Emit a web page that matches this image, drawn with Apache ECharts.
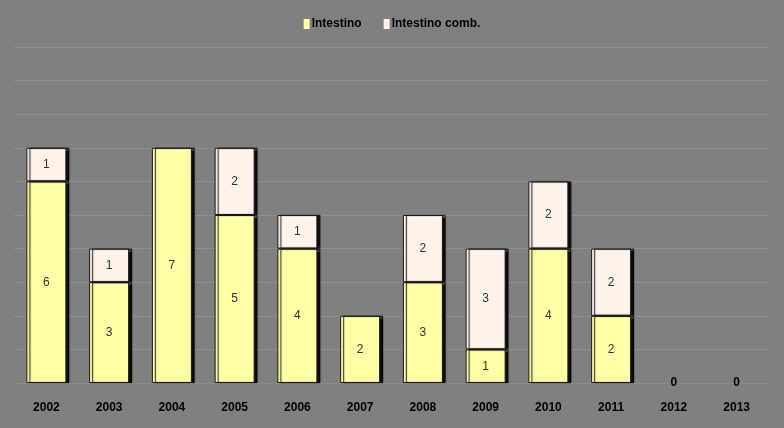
<!DOCTYPE html>
<html>
<head>
<meta charset="utf-8">
<script src="https://cdn.jsdelivr.net/npm/echarts@6/dist/echarts.min.js"></script>
<style>
html,body{margin:0;padding:0;background:#808080;}
#c{width:784px;height:428px;}
</style>
</head>
<body>
<div id="c"></div>
<script>
var years = ['2002','2003','2004','2005','2006','2007','2008','2009','2010','2011','2012','2013'];
var intestino = [6,3,7,5,4,2,3,1,4,2,0,0];
var intestinoComb = [1,1,null,2,1,null,2,3,2,2,null,null];
var seriesNames = ['Intestino','Intestino comb.'];

function toItems(arr){
  return arr.map(function(v){
    if (v === 0) {
      return {value: v, itemStyle: {color: 'rgba(0,0,0,0)', borderWidth: 0, shadowColor: 'rgba(0,0,0,0)', shadowOffsetX: 0}};
    }
    return v;
  });
}

var chart = echarts.init(document.getElementById('c'));
var font = 'Liberation Sans, Arial, sans-serif';
chart.setOption({
  backgroundColor: '#808080',
  animation: false,
  legend: {
    top: 13,
    left: 'center',
    itemWidth: 6,
    itemHeight: 10,
    itemGap: 22,
    icon: 'rect',
    itemStyle: {borderWidth: 0, shadowBlur: 0, shadowColor: 'rgba(0,0,0,0)'},
    textStyle: {fontFamily: font, fontWeight: 'bold', fontSize: 12, color: '#000', padding: [0,0,0,-3]},
    data: seriesNames
  },
  grid: {left: 15, right: 16, top: 47, bottom: 45},
  xAxis: {
    type: 'category',
    data: years,
    axisLine: {show: true, lineStyle: {color: '#8b8b8b'}},
    axisTick: {show: false},
    axisLabel: {fontFamily: font, fontWeight: 'bold', fontSize: 12, color: '#000', margin: 19}
  },
  yAxis: {
    type: 'value',
    min: 0, max: 10, interval: 1,
    axisLabel: {show: false},
    axisLine: {show: false},
    axisTick: {show: false},
    splitLine: {show: true, lineStyle: {type: 'dotted', color: 'rgba(225,225,225,0.3)', width: 1}}
  },
  series: [
    {
      name: seriesNames[0],
      type: 'bar',
      stack: 'a',
      barWidth: 40,
      data: toItems(intestino),
      itemStyle: {color: '#FFFFA8', borderColor: '#1a1a1a', borderWidth: 1,
        shadowColor: 'rgba(0,0,0,0.9)', shadowOffsetX: 3, shadowOffsetY: 0, shadowBlur: 1},
      label: {
        show: true, position: 'inside', fontFamily: font, fontSize: 12, color: '#333',
        formatter: function(p){ return p.value === 0 ? '{z|0}' : String(p.value); },
        rich: {z: {fontFamily: font, fontWeight: 'bold', fontSize: 12, color: '#000'}}
      }
    },
    {
      name: seriesNames[1],
      type: 'bar',
      stack: 'a',
      barWidth: 40,
      data: toItems(intestinoComb),
      itemStyle: {color: '#FDF3EA', borderColor: '#1a1a1a', borderWidth: 1,
        shadowColor: 'rgba(0,0,0,0.9)', shadowOffsetX: 3, shadowOffsetY: 0, shadowBlur: 1},
      label: {
        show: true, position: 'inside', fontFamily: font, fontSize: 12, color: '#333',
        formatter: function(p){ return p.value ? String(p.value) : ''; }
      }
    }
  ]
});
</script>
</body>
</html>
